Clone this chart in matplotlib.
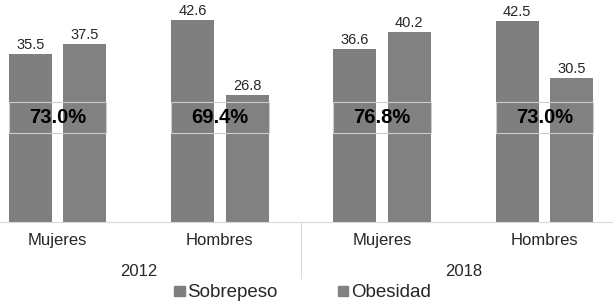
import matplotlib.pyplot as plt
from matplotlib.patches import Rectangle, Patch

plt.rcParams['font.family'] = ['Liberation Sans', 'DejaVu Sans']

# data
categorias = ['Mujeres', 'Hombres', 'Mujeres', 'Hombres']
anios = ['2012', '2018']
sobrepeso = [35.5, 42.6, 36.6, 42.5]
obesidad = [37.5, 26.8, 40.2, 30.5]
total = ['73.0%', '69.4%', '76.8%', '73.0%']

gris1 = '#7f7f7f'
gris2 = '#818181'
texto = '#262626'

fig = plt.figure(figsize=(6.13, 3.01), dpi=100)
ax = fig.add_axes([0, 79 / 301, 1, 222 / 301])

x = list(range(len(categorias)))
w = 0.265
off = 0.168
xs = [i - off for i in x]
xo = [i + off for i in x]
ax.bar(xs, sobrepeso, width=w, color=gris1)
ax.bar(xo, obesidad, width=w, color=gris2)

for xi, v in zip(xs, sobrepeso):
    ax.annotate(f'{v:.1f}', (xi, v), xytext=(0, 1.5), textcoords='offset points',
                ha='center', va='bottom', fontsize=10.5, color=texto)
for xi, v in zip(xo, obesidad):
    ax.annotate(f'{v:.1f}', (xi, v), xytext=(0, 1.5), textcoords='offset points',
                ha='center', va='bottom', fontsize=10.5, color=texto)

# total boxes
for i, t in enumerate(total):
    left = i - off - w / 2
    ax.add_patch(Rectangle((left, 18.9), 2 * off + w, 6.4, facecolor='none',
                           edgecolor='#cccccc', lw=0.8, zorder=3))
    ax.text(i, 22.0, t, ha='center', va='center', fontsize=14.5,
            fontweight='bold', color='black', zorder=4)

ax.set_xlim(-0.354, 3.423)
ax.set_ylim(0, 46.9)
ax.set_yticks([])
ax.set_xticks(x)
ax.set_xticklabels(categorias, fontsize=12, color=texto)
ax.tick_params(axis='x', length=0, pad=8)
for s in ['top', 'right', 'left']:
    ax.spines[s].set_visible(False)
ax.spines['bottom'].set_color('#d9d9d9')

# year labels and separator
for j, a in enumerate(anios):
    ax.annotate(a, (2 * j + 0.5, 0), xycoords='data', xytext=(0, -50 * 0.72),
                textcoords='offset points', ha='center', va='center',
                fontsize=12, color=texto, annotation_clip=False)
ax.plot([1.5, 1.5], [0, -11.8], color='#d9d9d9', lw=0.8, clip_on=False)

handles = [Patch(color=gris1, label='Sobrepeso'), Patch(color=gris2, label='Obesidad')]
fig.legend(handles=handles, loc='center', bbox_to_anchor=(0.4935, 0.027), ncol=2,
           frameon=False, fontsize=13.5, handlelength=0.55, handleheight=0.45,
           handletextpad=0.15, columnspacing=3.2, labelcolor=texto)

fig.savefig('out.png', dpi=100)
